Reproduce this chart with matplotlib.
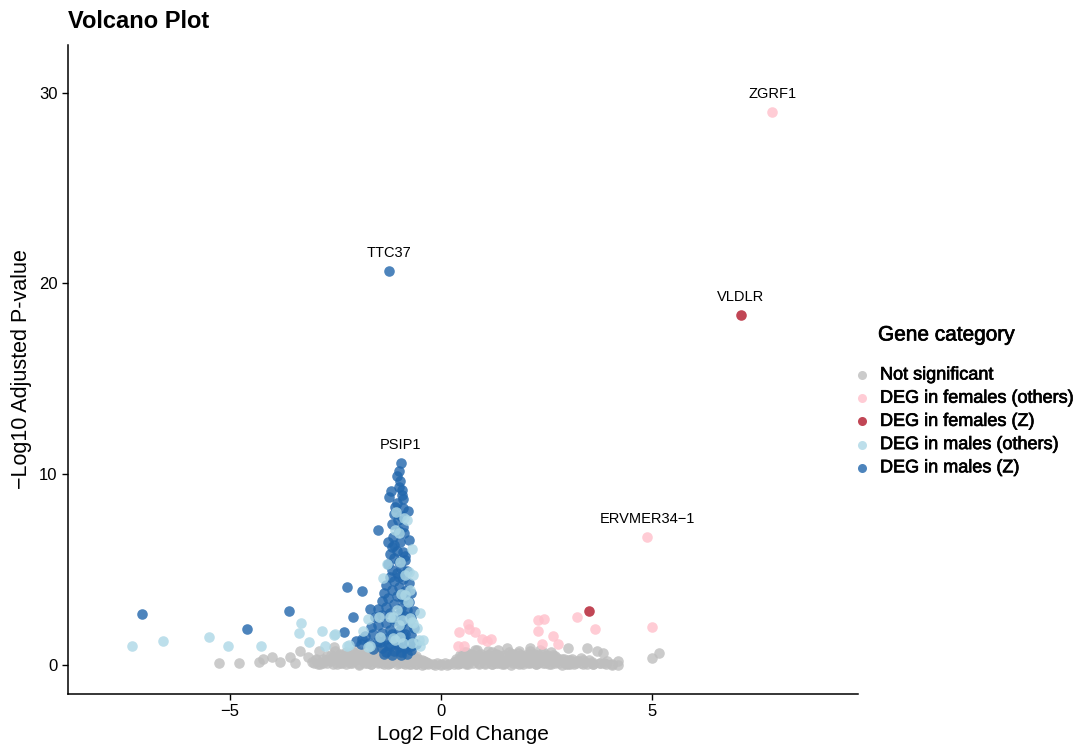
import matplotlib
matplotlib.use("Agg")
import matplotlib.pyplot as plt
import matplotlib.patheffects as pe
from matplotlib.lines import Line2D

plt.rcParams['font.family'] = ['Liberation Sans', 'DejaVu Sans']

# ---- data ----
# not significant: scattered points
ns_x = [-5.25, -4.78, -4.30, -4.2, -4.0, -3.8, -3.57, -3.45, -3.33, -3.14, -3.05, -2.95, -2.88, -2.8,
        -2.7, -2.6, -2.53, -2.45, -2.4, -2.3, -2.2, -2.15, -2.08, -2.0, -1.95, -1.9, -1.85, -1.8,
        -1.7, -1.65, -1.6, -1.55, -1.5, -1.45, -1.4, -1.35, -1.3, -1.25, -1.2, -1.15, -1.1, -1.05,
        -1.0, -0.95, -0.9, -0.85, -0.8, -0.75, -0.7, -0.65, -0.6, -0.55, -0.5, -0.45, -0.4, -0.35,
        -0.3, -0.2, -0.1, 0.0, 0.1, 0.2, 0.3, 0.35, 0.4, 0.45, 0.5, 0.55, 0.6, 0.65, 0.7, 0.75,
        0.8, 0.85, 0.9, 0.95, 1.0, 1.05, 1.1, 1.15, 1.2, 1.25, 1.3, 1.35, 1.4, 1.45, 1.5, 1.56,
        1.6, 1.65, 1.7, 1.75, 1.82, 1.85, 1.9, 1.95, 2.0, 2.05, 2.1, 2.15, 2.2, 2.25, 2.3, 2.35,
        2.4, 2.45, 2.5, 2.55, 2.6, 2.65, 2.7, 2.75, 2.8, 2.85, 2.9, 3.0, 3.0, 3.05, 3.1, 3.2,
        3.25, 3.35, 3.45, 3.5, 3.57, 3.69, 3.75, 3.83, 3.92, 4.18, 4.18, 4.99, 5.15,
        -2.9, -2.75, -2.55, -2.35, -2.25, -2.1, -1.75, -1.5, -1.35, -1.2, -1.0, -0.8, -0.7, -0.6,
        0.45, 0.6, 0.75, 0.9, 1.05, 1.2, 1.35, 1.5, 1.7, 1.9, 2.1, 2.3, 2.6, 2.95, 3.15, 3.3,
        3.4, 3.6, 3.85, 4.05]
ns_y = [0.1, 0.1, 0.15, 0.3, 0.4, 0.15, 0.42, 0.1, 0.73, 0.42, 0.15, 0.3, 0.73, 0.1,
        0.45, 0.2, 0.94, 0.05, 0.5, 0.25, 0.6, 0.1, 0.68, 0.3, 0.05, 0.55, 0.2, 0.75,
        0.35, 0.05, 0.6, 0.2, 0.85, 0.4, 0.1, 0.65, 0.3, 0.05, 0.5, 0.2, 0.7, 0.35,
        0.1, 0.55, 0.25, 0.05, 0.45, 0.6, 0.2, 0.4, 0.05, 0.3, 0.15, 0.25, 0.05, 0.15,
        0.1, 0.05, 0.1, 0.02, 0.08, 0.05, 0.15, 0.3, 0.05, 0.5, 0.2, 0.7, 0.35, 0.05, 0.55, 0.25,
        0.8, 0.4, 0.1, 0.6, 0.3, 0.05, 0.5, 0.2, 0.7, 0.35, 0.1, 0.55, 0.25, 0.05, 0.45, 0.89,
        0.2, 0.6, 0.1, 0.35, 0.63, 0.05, 0.4, 0.2, 0.55, 0.1, 0.89, 0.3, 0.6, 0.05, 0.4, 0.2,
        0.7, 0.1, 0.45, 0.25, 0.05, 0.5, 0.2, 0.35, 0.1, 0.3, 0.15, 0.89, 0.25, 0.05, 0.3, 0.1,
        0.2, 0.05, 0.89, 0.25, 0.16, 0.73, 0.1, 0.63, 0.2, 0.2, 0.0, 0.37, 0.63,
        0.05, 0.25, 0.4, 0.1, 0.35, 0.2, 0.1, 0.15, 0.3, 0.1, 0.4, 0.15, 0.05, 0.25,
        0.1, 0.1, 0.5, 0.35, 0.45, 0.05, 0.2, 0.1, 0.5, 0.1, 0.15, 0.1, 0.35, 0.05, 0.15, 0.35,
        0.15, 0.05, 0.1, 0.05]
# not significant: dense band near zero
band_lo_x = [-3.0, -2.85, -2.7, -2.55, -2.4, -2.25, -2.1, -1.95, -1.8, -1.65, -1.5, -1.35, -1.2,
             -1.05, -0.9, -0.75, -0.6, -0.45, -0.3, -0.15, 0.0, 0.15, 0.3, 0.45, 0.6, 0.75, 0.9,
             1.05, 1.2, 1.35, 1.5, 1.65, 1.8, 1.95, 2.1, 2.25, 2.4, 2.55, 2.7, 2.85, 3.0, 3.15,
             3.3, 3.45, 3.6, 3.75, 3.9, 4.05]
band_lo_y = [0.08, 0.03, 0.1, 0.05, 0.12, 0.04, 0.09, 0.02, 0.11, 0.06, 0.1, 0.03, 0.08,
             0.05, 0.12, 0.04, 0.07, 0.02, 0.05, 0.0, 0.03, 0.01, 0.06, 0.09, 0.04, 0.11, 0.05,
             0.08, 0.03, 0.1, 0.06, 0.02, 0.09, 0.05, 0.12, 0.03, 0.08, 0.05, 0.1, 0.02, 0.07, 0.04,
             0.09, 0.03, 0.06, 0.1, 0.04, 0.02]
band_mid_x = [-2.95, -2.8, -2.65, -2.5, -2.35, -2.2, -2.05, -1.9, -1.75, -1.6, -1.45, -1.3, -1.15,
              -1.0, -0.85, -0.7, -0.55, -0.4, 0.35, 0.5, 0.65, 0.8, 0.95, 1.1, 1.25, 1.4, 1.55,
              1.7, 1.85, 2.0, 2.15, 2.3, 2.45, 2.6, 2.75, 2.9, 3.05, 3.2, 3.35]
band_mid_y = [0.28, 0.33, 0.25, 0.36, 0.3, 0.27, 0.35, 0.31, 0.26, 0.34, 0.29, 0.37, 0.3,
              0.27, 0.33, 0.28, 0.24, 0.2, 0.22, 0.27, 0.32, 0.29, 0.35, 0.26, 0.31, 0.34, 0.28,
              0.33, 0.25, 0.3, 0.36, 0.27, 0.31, 0.29, 0.24, 0.3, 0.26, 0.22, 0.25]
band_hi_x = [-2.6, -2.4, -2.2, -2.0, -1.8, -1.6, -1.4, -1.2, -1.0, -0.8, -0.6,
             0.5, 0.7, 0.9, 1.1, 1.3, 1.5, 1.7, 1.9, 2.1, 2.3, 2.5, 2.7]
band_hi_y = [0.52, 0.6, 0.5, 0.58, 0.55, 0.62, 0.5, 0.57, 0.54, 0.6, 0.48,
             0.5, 0.6, 0.55, 0.52, 0.58, 0.5, 0.56, 0.53, 0.6, 0.5, 0.55, 0.48]
band_top_x = [-2.5, -2.25, -2.0, -1.75, -1.5, -1.25, -1.0, -0.75,
              0.6, 0.85, 1.1, 1.35, 1.6, 1.85, 2.1, 2.35, 2.6]
band_top_y = [0.75, 0.7, 0.8, 0.72, 0.78, 0.7, 0.76, 0.68,
              0.7, 0.78, 0.72, 0.8, 0.7, 0.76, 0.72, 0.78, 0.7]

fo_x = [0.43, 0.64, 0.66, 0.80, 0.97, 1.18, 1.09, 0.40, 0.54, 2.29, 2.43, 2.29, 2.65, 2.39,
        2.77, 3.22, 3.64, 4.99, 7.83, 4.87]
fo_y = [1.73, 2.15, 1.89, 1.73, 1.36, 1.36, 1.26, 1.0, 1.0, 2.36, 2.41, 1.78, 1.52, 1.10,
        1.10, 2.52, 1.89, 1.99, 29.0, 6.71]

fz_x = [3.50, 7.09]
fz_y = [2.83, 18.35]

mo_x = [-7.30, -6.57, -5.48, -5.04, -4.26, -3.31, -3.36, -3.12, -2.81, -2.53, -2.74, -2.17, -1.73,
        -1.84, -1.06, -0.87, -0.80, -1.09, -0.99, -0.69, -1.28, -0.76, -0.66, -0.85, -1.37, -0.95,
        -0.85, -0.78, -1.04, -1.21, -0.50, -0.92, -0.73, -2.51, -1.73, -1.09, -0.90, -0.69, -0.43,
        -0.57, -0.97, -0.73, -0.69, -1.13, -0.99, -1.47, -1.13, -0.97, -0.66, -0.52, -0.49, -2.22,
        -1.68, -1.44]
mo_y = [1.0, 1.26, 1.47, 1.0, 1.0, 2.2, 1.68, 1.21, 1.78, 1.57, 1.0, 1.05, 2.41,
        1.78, 8.02, 7.71, 7.60, 7.08, 6.92, 6.08, 5.30, 4.88, 4.72, 4.72, 4.56, 3.72,
        3.67, 3.30, 2.88, 2.52, 2.73, 2.36, 2.46, 1.63, 0.94, 1.31, 1.15, 1.15, 1.31,
        1.94, 5.40, 3.93, 2.26, 2.52, 2.10, 2.52, 1.42, 1.47, 2.20, 1.31, 1.0, 1.0,
        1.0, 1.47]

mz_x = [-1.23, -0.95, -0.99, -0.97, -0.99, -1.18, -1.23, -0.92, -0.90, -1.04, -1.09, -0.90, -0.78,
        -1.02, -1.49, -0.90, -1.13, -0.76, -1.25, -0.97, -1.16,
        -1.05, -0.9, -1.2, -1.1, -0.85, -1.0, -1.25, -0.95, -1.15, -0.8, -1.05,
        -1.2, -0.9, -1.1, -0.75, -1.3, -1.0, -1.15, -0.85, -1.35, -0.7,
        -1.05, -1.25, -0.9, -1.4, -0.75, -1.1, -1.3, -0.95, -1.5, -0.8, -0.65,
        -1.2, -1.0, -1.4, -0.85, -1.55, -0.7, -1.1, -1.3, -0.95, -1.5, -0.8, -1.65, -0.65,
        -1.2, -1.0, -1.4, -0.85, -1.6, -0.7, -1.8, -1.1, -1.3, -0.9, -1.5, -0.75, -1.7, -0.6, -1.9,
        -1.2, -1.0, -1.4, -0.85, -1.6, -0.7, -1.1, -1.3, -0.95,
        -1.0, -1.15, -0.88, -1.1, -0.95, -1.05, -0.93, -0.85, -1.12, -1.0, -0.92, -1.08,
        -1.35, -1.15, -0.95, -0.8, -1.05, -1.25, -0.7, -1.45, -0.9, -1.15,
        -7.07, -3.59, -4.59, -2.22, -1.87, -2.08, -2.29, -2.01, -1.87, -1.68]
mz_y = [20.66, 10.59, 10.17, 9.65, 9.33, 9.12, 8.81, 9.18, 8.70, 8.49, 8.29, 8.23, 8.08,
        7.60, 7.08, 7.24, 6.71, 6.55, 6.45, 6.45, 6.19,
        6.0, 5.9, 5.8, 5.6, 5.5, 5.4, 5.3, 5.1, 5.0, 4.95, 4.8,
        4.6, 4.5, 4.4, 4.3, 4.2, 4.1, 3.95, 3.9, 3.8, 3.75,
        3.6, 3.5, 3.45, 3.35, 3.3, 3.2, 3.05, 3.0, 2.95, 2.9, 2.85,
        2.75, 2.65, 2.6, 2.55, 2.5, 2.45, 2.3, 2.2, 2.15, 2.1, 2.05, 2.0, 1.95,
        1.85, 1.8, 1.7, 1.65, 1.6, 1.55, 1.5, 1.4, 1.35, 1.3, 1.25, 1.2, 1.15, 1.1, 1.1,
        1.0, 0.95, 0.9, 0.9, 0.85, 0.8, 0.75, 0.7, 0.7,
        7.0, 7.4, 6.9, 7.9, 7.8, 9.9, 8.9, 5.7, 6.3, 4.6, 3.55, 2.4,
        0.6, 0.55, 0.5, 0.6, 1.15, 1.05, 1.0, 1.2, 1.55, 1.6,
        2.67, 2.83, 1.89, 4.09, 3.88, 2.52, 1.73, 1.26, 1.36, 2.94]

label_genes = ['ZGRF1', 'VLDLR', 'TTC37', 'PSIP1', 'ERVMER34\u22121']
label_x = [7.83, 7.09, -1.23, -0.95, 4.87]
label_y = [29.0, 18.35, 20.66, 10.59, 6.71]

categories = ['Not significant', 'DEG in females (others)', 'DEG in females (Z)',
              'DEG in males (others)', 'DEG in males (Z)']
colors = ['#BEBEBE', '#FFC0CB', '#B2182B', '#ADD8E6', '#2166AC']

# ---- plot ----
fig = plt.figure(figsize=(10.74, 7.46), dpi=100)
ax = fig.add_axes([68 / 1074, 1 - 694 / 746, 790 / 1074, 649 / 746])

pt = 58
gray_x = ns_x + band_lo_x + band_mid_x + band_hi_x + band_top_x
gray_y = ns_y + band_lo_y + band_mid_y + band_hi_y + band_top_y
ax.scatter(gray_x, gray_y, s=pt, c=colors[0], alpha=0.8, linewidths=0, zorder=2)
ax.scatter(fo_x, fo_y, s=pt, c=colors[1], alpha=0.8, linewidths=0, zorder=3)
ax.scatter(fz_x, fz_y, s=pt, c=colors[2], alpha=0.8, linewidths=0, zorder=3)
ax.scatter(mz_x, mz_y, s=pt, c=colors[4], alpha=0.8, linewidths=0, zorder=3)
ax.scatter(mo_x, mo_y, s=pt, c=colors[3], alpha=0.8, linewidths=0, zorder=4)

for g, x, y in zip(label_genes, label_x, label_y):
    ax.annotate(g, (x, y), xytext=(0, 18), textcoords='offset pixels',
                ha='center', va='center', fontsize=10.5, color='black')

ax.set_xlim(-8.82, 9.86)
ax.set_ylim(-1.52, 32.5)
ax.set_xticks([-5, 0, 5])
ax.set_xticklabels(['\u22125', '0', '5'])
ax.set_yticks([0, 10, 20, 30])
for side in ['top', 'right']:
    ax.spines[side].set_visible(False)
for side in ['left', 'bottom']:
    ax.spines[side].set_linewidth(1.1)
ax.tick_params(labelsize=12, length=4, width=1.0, colors='black')
ax.set_xlabel('Log2 Fold Change', fontsize=15, labelpad=4)
ax.set_ylabel('\u2212Log10 Adjusted P-value', fontsize=15.5, labelpad=5)
fig.text(68 / 1074, 1 - 22 / 746, 'Volcano Plot', fontsize=17, fontweight='bold',
         ha='left', va='center')

# legend, placed by hand to match the reference spacing
heavy = [pe.withStroke(linewidth=0.5, foreground='black')]
fig.text(878 / 1074, 1 - 335 / 746, 'Gene category', fontsize=15, ha='left', va='center',
         path_effects=heavy)
for i, (lab, c) in enumerate(zip(categories, colors)):
    yy = 1 - (375 + 23.2 * i) / 746
    fig.add_artist(Line2D([862 / 1074], [yy], transform=fig.transFigure, marker='o',
                          linestyle='none', markersize=6.5, markerfacecolor=c,
                          markeredgewidth=0, alpha=0.8))
    fig.text(880 / 1074, yy, lab, fontsize=13, ha='left', va='center', path_effects=heavy)

fig.savefig('out.png', dpi=100)
